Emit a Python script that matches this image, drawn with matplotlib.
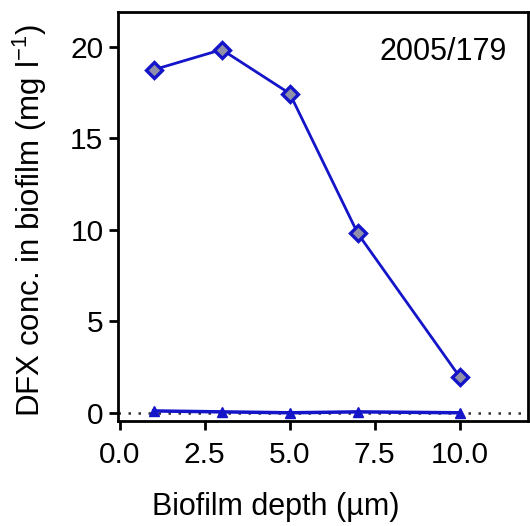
import matplotlib
matplotlib.use("Agg")
import matplotlib.pyplot as plt

plt.rcParams['font.family'] = ['Liberation Sans', 'DejaVu Sans']
plt.rcParams['mathtext.fontset'] = 'custom'
plt.rcParams['mathtext.rm'] = 'Liberation Sans'
plt.rcParams['mathtext.it'] = 'Liberation Sans:italic'

depth = [1, 3, 5, 7, 10]
biofilm = [18.75, 19.85, 17.45, 9.8, 1.95]
control = [0.1, 0.05, 0.0, 0.05, 0.0]
xticks = [0.0, 2.5, 5.0, 7.5, 10.0]
yticks = [0, 5, 10, 15, 20]

fig = plt.figure(figsize=(5.30, 5.26), dpi=100)
ax = fig.add_axes([0.2226, 0.1996, 0.7734, 0.7774])

blue = '#1414c8'
ax.axhline(0, color='#333333', linestyle=(0, (1, 3)), linewidth=1.8, zorder=1)
ax.plot(depth, biofilm, color=blue, linewidth=2, marker='D', markersize=8,
        markerfacecolor='#9090a8', markeredgecolor=blue, markeredgewidth=2.4, zorder=3)
ax.plot(depth, control, color=blue, linewidth=2.5, marker='^', markersize=7.5,
        markerfacecolor=blue, markeredgecolor=blue, zorder=3)

ax.set_xlim(-0.05, 12)
ax.set_ylim(-0.45, 21.9)
ax.set_xticks(xticks)
ax.set_xticklabels([f'{v:.1f}' for v in xticks])
ax.set_yticks(yticks)
ax.tick_params(axis='both', labelsize=21.5, width=2, length=6.5, direction='out')
ax.tick_params(axis='x', pad=8)
ax.tick_params(axis='y', pad=4)
for s in ax.spines.values():
    s.set_linewidth(2)

ax.text(0.949, 0.902, '2005/179', transform=ax.transAxes, ha='right', va='center', fontsize=22)
ax.set_xlabel('Biofilm depth (µm)', fontsize=22, va='center')
ax.xaxis.set_label_coords(0.385, -0.21)
ax.set_ylabel('DFX conc. in biofilm (mg l$^{-1}$)', fontsize=22.5, va='center')
ax.yaxis.set_label_coords(-0.215, 0.49)

fig.savefig('out.png', dpi=100)
